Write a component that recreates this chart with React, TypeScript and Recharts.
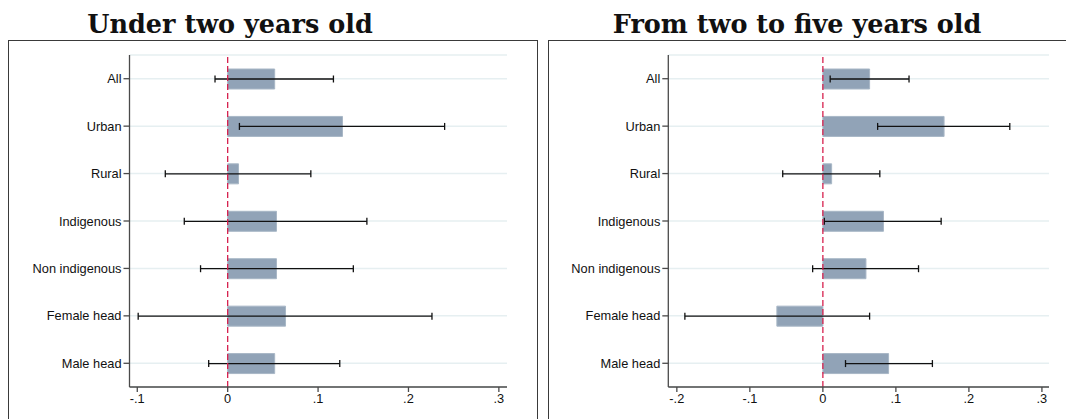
import React from 'react';
import {
  Bar,
  BarChart,
  CartesianGrid,
  ErrorBar,
  ReferenceLine,
  XAxis,
  YAxis,
} from 'recharts';

const groups = ['All', 'Urban', 'Rural', 'Indigenous', 'Non indigenous', 'Female head', 'Male head'];

// Under two years old
const under2Effect = [0.052, 0.127, 0.012, 0.054, 0.054, 0.064, 0.052];
const under2Low = [-0.014, 0.013, -0.069, -0.048, -0.030, -0.099, -0.021];
const under2High = [0.117, 0.240, 0.092, 0.154, 0.139, 0.226, 0.124];

// From two to five years old
const twoTo5Effect = [0.064, 0.166, 0.012, 0.083, 0.059, -0.063, 0.090];
const twoTo5Low = [0.010, 0.075, -0.055, 0.002, -0.014, -0.189, 0.031];
const twoTo5High = [0.118, 0.256, 0.078, 0.162, 0.131, 0.064, 0.150];

const under2Ticks = [-0.1, 0, 0.1, 0.2, 0.3];
const twoTo5Ticks = [-0.2, -0.1, 0, 0.1, 0.2, 0.3];

const buildRows = (effect: number[], low: number[], high: number[]) =>
  groups.map((name, i) => ({
    name,
    effect: effect[i],
    err: [effect[i] - low[i], high[i] - effect[i]],
  }));

const fmt = (v: number) => {
  if (v === 0) return '0';
  const s = String(Math.abs(v)).replace(/^0/, '');
  return (v < 0 ? '-' : '') + s;
};

const axisColor = '#4a4a4a';
const tickFont = { fontFamily: 'Liberation Sans, Arial, sans-serif', fontSize: 12.8, fill: '#111' };

interface PanelProps {
  rows: { name: string; effect: number; err: number[] }[];
  domain: [number, number];
  ticks: number[];
  width: number;
  yWidth: number;
  right: number;
}

const Panel: React.FC<PanelProps> = ({ rows, domain, ticks, width, yWidth, right }) => (
  <BarChart
    layout="vertical"
    width={width}
    height={378}
    data={rows}
    margin={{ top: 14, right, left: 0, bottom: 2 }}
    barCategoryGap={0}
  >
    <CartesianGrid horizontal vertical={false} stroke="#e6eff1" strokeWidth={1.5} />
    <XAxis
      type="number"
      domain={domain}
      ticks={ticks}
      allowDataOverflow
      tickFormatter={fmt}
      height={30}
      tick={tickFont}
      tickSize={5}
      axisLine={{ stroke: axisColor, strokeWidth: 1.3 }}
      tickLine={{ stroke: axisColor, strokeWidth: 1.3 }}
    />
    <YAxis
      type="category"
      dataKey="name"
      width={yWidth}
      tick={tickFont}
      tickSize={6}
      axisLine={{ stroke: axisColor, strokeWidth: 1.3 }}
      tickLine={{ stroke: axisColor, strokeWidth: 1.3 }}
    />
    <Bar
      dataKey="effect"
      barSize={20}
      fill="#91a3b7"
      stroke="#a8b7c6"
      strokeWidth={1}
      isAnimationActive={false}
    >
      <ErrorBar dataKey="err" direction="x" width={3.5} stroke="#111" strokeWidth={1.3} />
    </Bar>
    <ReferenceLine x={0} stroke="#d6204e" strokeWidth={1.3} strokeDasharray="6 3" />
  </BarChart>
);

const titleStyle: React.CSSProperties = {
  position: 'absolute',
  top: 9,
  width: 500,
  textAlign: 'center',
  fontFamily: 'DejaVu Serif, serif',
  fontWeight: 'bold',
  fontSize: 25.5,
  color: '#111',
  whiteSpace: 'nowrap',
};

const boxStyle: React.CSSProperties = {
  position: 'absolute',
  top: 40,
  height: 420,
  boxSizing: 'border-box',
  border: '1.5px solid #3a3a3a',
};

export default function App() {
  return (
    <div
      style={{
        position: 'absolute',
        left: 0,
        top: 0,
        width: 1066,
        height: 419,
        overflow: 'hidden',
        background: '#fff',
      }}
    >
      <div style={{ ...titleStyle, left: 230 - 250 }}>Under two years old</div>
      <div style={{ ...titleStyle, left: 797 - 250 }}>From two to five years old</div>
      <div style={{ ...boxStyle, left: 8, width: 530 }} />
      <div style={{ ...boxStyle, left: 548, width: 540 }} />
      <div style={{ position: 'absolute', left: 9, top: 41 }}>
        <Panel
          rows={buildRows(under2Effect, under2Low, under2High)}
          domain={[-0.1086, 0.309]}
          ticks={under2Ticks}
          width={528}
          yWidth={120.5}
          right={30}
        />
      </div>
      <div style={{ position: 'absolute', left: 549, top: 41 }}>
        <Panel
          rows={buildRows(twoTo5Effect, twoTo5Low, twoTo5High)}
          domain={[-0.2117, 0.3097]}
          ticks={twoTo5Ticks}
          width={517}
          yWidth={119.3}
          right={17}
        />
      </div>
    </div>
  );
}
